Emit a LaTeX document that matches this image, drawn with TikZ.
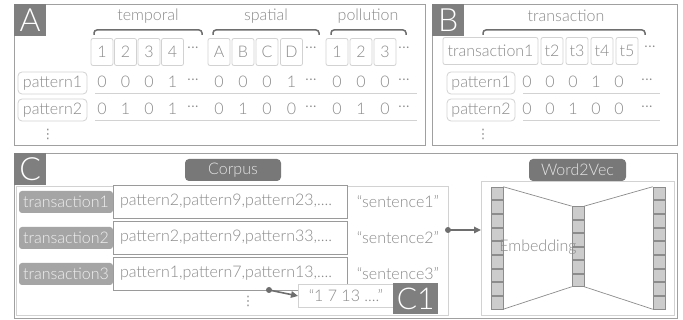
\documentclass[tikz,border=0pt]{standalone}
\usepackage{fontspec}
\IfFontExistsTF{Lato Light}{\setmainfont{Lato Light}}{\setmainfont{Lato}}
\newfontfamily\djv{DejaVu Sans}
\usetikzlibrary{arrows.meta}
\definecolor{frm}{HTML}{A0A0A0}
\definecolor{tagc}{HTML}{7F7F7F}
\definecolor{txt}{HTML}{8A8A8A}
\definecolor{lite}{HTML}{D2D2D2}
\definecolor{brc}{HTML}{6E6E6E}
\definecolor{sqf}{HTML}{CCCCCC}
\definecolor{sqd}{HTML}{8C8C8C}
\definecolor{dlabc}{HTML}{787878}
\definecolor{tlabc}{HTML}{A5A5A5}
\definecolor{pboxc}{HTML}{9A9A9A}
\newcommand\fsn{\fontsize{16}{18}\selectfont}
\newcommand\vdts{{\djv\fontsize{13}{13}\selectfont ⋮}}
\begin{document}
\begin{tikzpicture}[x=1pt,y=-1pt,
  every node/.style={text=txt, font=\fsn},
  rectat/.style 2 args={minimum width=#1, minimum height=#2, anchor=north west, inner sep=0pt},
  panel/.style={draw=frm, line width=1.2pt},
  tag/.style={fill=tagc, text=white, font=\fontsize{32}{32}\selectfont, minimum width=32, minimum height=32, inner sep=0pt, anchor=north west},
  hbox/.style={draw=lite, rounded corners=2pt, minimum width=22, minimum height=27, inner sep=0pt, line width=0.8pt},
  rowlab/.style={draw=lite, rounded corners=4pt, minimum height=22, inner sep=0pt, line width=0.8pt},
  brace/.style={draw=brc, line width=1.5pt, rounded corners=3pt},
  uline/.style={draw=lite, line width=1pt},
  dlab/.style={fill=dlabc, rounded corners=4pt, text=white!90!black, minimum height=22, inner sep=0pt},
  tlab/.style={fill=tlabc, rounded corners=3pt, text=white!94!black, minimum width=94, minimum height=22, inner sep=0pt},
  pbox/.style={draw=pboxc, fill=white, line width=0.8pt, text width=220, inner xsep=7, inner ysep=0pt, minimum height=33, align=left},
  sqr/.style={fill=sqf, draw=sqd, line width=0.6pt, minimum width=12, minimum height=12.5, inner sep=0pt},
  net/.style={draw=sqd, line width=0.7pt},
  arr/.style={draw=brc, line width=1.6pt, -{Triangle[length=7pt,width=6.5pt]}}
]
\useasboundingbox (0,0) rectangle (683,320);
\fill[white] (0,0) rectangle (683,320);

% ---------------- Panel A ----------------
\node[panel, rectat={411}{141}] (pA) at (14,4) {};
\node[tag] (tA) at (14,4) {A};
\node (ltemp) at (148,16) {temporal};
\node (lspat) at (266,16) {spatial};
\node (lpoll) at (368,16) {pollution};
\draw[brace] (94,35) |- (148,30) -| (202,35);
\draw[brace] (213,35) |- (266,30) -| (319,35);
\draw[brace] (331,35) |- (368,30) -| (406,35);
\foreach \x/\t/\n in {102/1/h1,125.5/2/h2,149/3/h3,172.5/4/h4,219/A/hA,243/B/hB,267/C/hC,291.5/D/hD,337/1/q1,361/2/q2,385/3/q3}
  \node[hbox] (\n) at (\x,52) {\t};
\node (hd1) at (193,50) {···};
\node (hd2) at (311,50) {···};
\node (hd3) at (404,50) {···};
\node[rowlab, minimum width=69] (ap1) at (52.5,83) {pattern1};
\node[rowlab, minimum width=69] (ap2) at (52.5,110) {pattern2};
\foreach \x/\v [count=\i] in {102/0,125.5/0,149/0,172.5/1,193/···,219/0,243/0,267/0,291.5/1,311/···,337/0,361/0,385/0,404/···}
  \node (ra\i) at (\x,82) {\v};
\foreach \x/\v [count=\i] in {102/0,125.5/1,149/0,172.5/1,193/···,219/0,243/1,267/0,291.5/0,311/···,337/0,361/1,385/0,404/···}
  \node (rb\i) at (\x,109) {\v};
\draw[uline] (95,94) -- (417,94);
\draw[uline] (95,121) -- (417,121);
\node (avd) at (48,134) {\vdts};

% ---------------- Panel B ----------------
\node[panel, rectat={245}{141}] (pB) at (432,4) {};
\node[tag] (tB) at (432,4) {B};
\node (ltrans) at (566,16) {transaction};
\draw[brace] (483,35) |- (566,30) -| (645,35);
\node[hbox, minimum width=95] (bt1) at (490.5,51) {transaction1};
\foreach \x/\t/\n in {552/t2/bt2,577/t3/bt3,602/t4/bt4,627/t5/bt5}
  \node[hbox] (\n) at (\x,51) {\t};
\node (bhd) at (650,49) {···};
\node[rowlab, minimum width=68] (bp1) at (481,83) {pattern1};
\node[rowlab, minimum width=68] (bp2) at (481,110) {pattern2};
\foreach \x/\v [count=\i] in {527/0,550/0,573/0,596/1,619/0,647/···}
  \node (ba\i) at (\x,82) {\v};
\foreach \x/\v [count=\i] in {527/0,550/0,573/1,596/0,619/0,647/···}
  \node (bb\i) at (\x,109) {\v};
\draw[uline] (523,94) -- (660,94);
\draw[uline] (523,121) -- (660,121);
\node (bvd) at (483,134) {\vdts};

% ---------------- Panel C ----------------
\node[panel, rectat={663}{165}] (pC) at (14,153) {};
\node[tag] (tC) at (14,153) {C};
\node[draw=lite, line width=0.9pt, rectat={432}{129}] (corpf) at (16,186) {};
\node[dlab, minimum width=96] (corp) at (233,170) {Corpus};

\node[pbox] (b1) at (230,201.5) {pattern2,pattern9,pattern23,....};
\node[pbox] (b2) at (230,237.5) {pattern2,pattern9,pattern33,....};
\node[pbox] (b3) at (230,273.5) {pattern1,pattern7,pattern13,....};
\node[tlab] (tr1) at (66,202) {transaction1};
\node[tlab] (tr2) at (66,238) {transaction2};
\node[tlab] (tr3) at (66,274) {transaction3};
\node (s1) at (398,202) {“sentence1”};
\node (s2) at (398,238) {“sentence2”};
\node (s3) at (398,274) {“sentence3”};
\node (cvd) at (248,301) {\vdts};

\node[draw=lite, fill=white, line width=0.9pt, rectat={95}{23}] (seq) at (298,284) {“1 7 13 ....”};
\node[tag, minimum width=45, minimum height=31, font=\fontsize{30}{30}\selectfont] (tC1) at (393,283) {C1};
\coordinate (d1) at (269,290);
\fill[brc] (d1) circle (3pt);
\draw[arr] (d1) -- (seq.west);

% Word2Vec
\node[draw=lite, line width=0.9pt, rectat={193}{134}] (w2v) at (481,181) {};
\node[dlab, minimum width=97] (w2vl) at (577.5,170) {Word2Vec};
\coordinate (d2) at (448,230);
\fill[brc] (d2) circle (3pt);
\draw[arr] (d2) -- (d2 -| w2v.west);

\foreach \i in {0,...,8} \node[sqr] (L\i) at (497,193.3+\i*13.67) {};
\foreach \i in {0,...,5} \node[sqr] (M\i) at (578,212.7+\i*13.5) {};
\foreach \i in {0,...,8} \node[sqr] (R\i) at (659,193.3+\i*13.67) {};
\draw[net] (L0.north east) -- (M0.north west);
\draw[net] (L8.south east) -- (M5.south west);
\draw[net] (M0.north east) -- (R0.north west);
\draw[net] (M5.south east) -- (R8.south west);
\node (emb) at (538,247) {Embedding};
\end{tikzpicture}
\end{document}
